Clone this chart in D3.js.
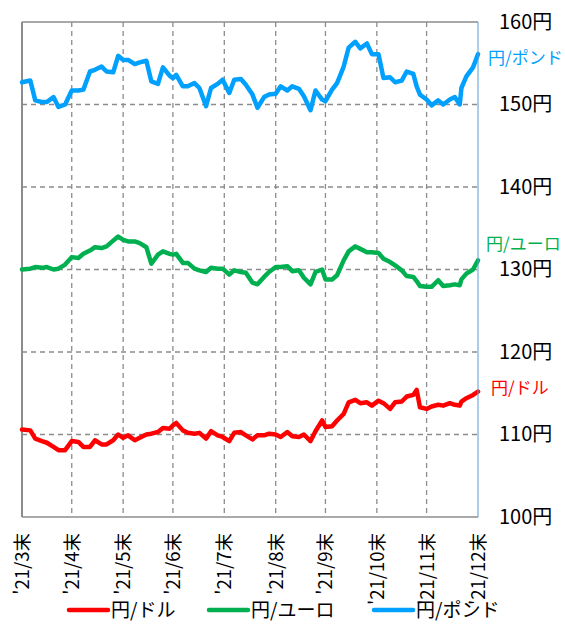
<!DOCTYPE html>
<html lang="ja">
  <head>
    <meta charset="utf-8">
    <title>円相場</title>
    <script src="https://d3js.org/d3.v7.min.js"></script>
    <style type="text/css">
    body { margin: 0; background: #fff; }
    text { font-family: "Noto Sans CJK JP", "Liberation Sans", sans-serif; }
</style>
  </head>
  <body>

<script>
// data
var dates = [
  "2021-03-31","2021-04-05","2021-04-08","2021-04-12","2021-04-15","2021-04-19","2021-04-22","2021-04-26","2021-04-30",
  "2021-05-04","2021-05-07","2021-05-11","2021-05-14","2021-05-18","2021-05-21","2021-05-25","2021-05-28","2021-05-31",
  "2021-06-03","2021-06-07","2021-06-10","2021-06-14","2021-06-17","2021-06-21","2021-06-24","2021-06-28","2021-06-30",
  "2021-07-02","2021-07-06","2021-07-09","2021-07-13","2021-07-16","2021-07-20","2021-07-23","2021-07-27","2021-07-30",
  "2021-08-03","2021-08-06","2021-08-10","2021-08-13","2021-08-17","2021-08-20","2021-08-24","2021-08-27","2021-08-31",
  "2021-09-03","2021-09-07","2021-09-10","2021-09-14","2021-09-17","2021-09-21","2021-09-24","2021-09-28","2021-09-30",
  "2021-10-04","2021-10-07","2021-10-11","2021-10-14","2021-10-18","2021-10-21","2021-10-25","2021-10-28",
  "2021-11-01","2021-11-04","2021-11-08","2021-11-11","2021-11-15","2021-11-18","2021-11-22","2021-11-24","2021-11-26","2021-11-30",
  "2021-12-03","2021-12-07","2021-12-10","2021-12-14","2021-12-17","2021-12-20","2021-12-21","2021-12-24","2021-12-28","2021-12-31"
];

var usd = [
  110.6,110.5,109.5,109.2,109.0,108.5,108.1,108.1,109.2,
  109.1,108.5,108.5,109.3,108.8,108.8,109.3,110.0,109.6,
  109.9,109.3,109.6,110.0,110.1,110.3,110.8,110.7,111.1,
  111.4,110.5,110.2,110.1,110.2,109.5,110.4,109.9,109.7,
  109.2,110.2,110.3,109.9,109.4,109.9,109.9,110.1,110.0,
  109.7,110.3,109.8,109.7,110.0,109.2,110.4,111.7,110.9,
  111.0,111.7,112.5,113.9,114.2,113.8,113.9,113.5,
  114.1,113.8,113.1,113.9,114.0,114.6,114.8,115.4,113.3,113.1,
  113.4,113.6,113.5,113.8,113.6,113.5,114.0,114.4,114.8,115.2
];

var eur = [
  130.0,130.1,130.3,130.2,130.3,130.0,130.1,130.6,131.5,
  131.4,131.9,132.3,132.7,132.6,132.8,133.5,134.0,133.6,
  133.4,133.4,133.2,132.7,130.7,131.8,132.2,131.9,131.8,
  131.9,130.8,130.8,130.1,129.9,129.7,130.2,130.1,130.1,
  129.4,129.9,129.7,129.6,128.4,128.2,129.1,129.7,130.3,
  130.3,130.4,129.8,129.9,129.0,128.2,129.7,130.0,128.8,
  128.8,129.3,131.1,132.2,132.8,132.5,132.1,132.1,
  132.0,131.3,130.9,130.5,129.9,129.2,129.1,128.6,128.0,127.9,
  127.9,128.7,128.0,128.1,128.2,128.1,128.8,129.5,130.0,131.1
];

var gbp = [
  152.7,152.9,150.5,150.3,150.3,150.9,149.7,150.0,151.7,
  151.7,151.8,154.0,154.2,154.6,154.0,153.9,155.9,155.4,
  155.4,154.9,155.1,155.3,152.8,152.5,154.5,153.5,153.2,
  153.6,152.2,152.2,152.6,152.0,149.8,152.0,152.5,153.0,
  151.4,153.0,153.1,152.4,151.2,149.6,150.9,151.2,151.3,
  152.2,151.7,152.2,151.9,151.0,149.3,151.7,150.6,150.4,
  151.8,152.6,154.6,156.9,157.6,156.8,157.4,156.1,
  156.1,153.2,153.3,152.7,152.9,154.0,153.7,152.2,151.2,150.6,
  149.9,150.5,150.0,150.6,150.9,150.0,152.0,153.4,154.5,156.1
];

var tickDates = ["2021-03-31","2021-04-30","2021-05-31","2021-06-30","2021-07-31",
                 "2021-08-31","2021-09-30","2021-10-31","2021-11-30","2021-12-31"];
var tickLabels = ["'21/3末","'21/4末","'21/5末","'21/6末","'21/7末",
                  "'21/8末","'21/9末","'21/10末","'21/11末","'21/12末"];
var yTicks = [100, 110, 120, 130, 140, 150, 160];

var seriesNames = ["円/ドル", "円/ユーロ", "円/ポンド"];
var seriesColors = ["#ff0000", "#00b050", "#00a0ff"];

var parse = d3.timeParse("%Y-%m-%d");

var series = [usd, eur, gbp].map(function (vals, k) {
  return {
    name: seriesNames[k],
    color: seriesColors[k],
    points: vals.map(function (v, i) { return { date: parse(dates[i]), value: v }; })
  };
});

// layout
var width = 565, height = 624;
var plotL = 22, plotR = 478, plotT = 22, plotB = 517;

var svg = d3.select("body").append("svg").attr("width", width).attr("height", height);

var x = d3.scaleTime()
  .domain([parse(tickDates[0]), parse(tickDates[tickDates.length - 1])])
  .range([plotL, plotR]);
var y = d3.scaleLinear().domain([100, 160]).range([plotB, plotT]);

// grid
var grid = svg.append("g");
grid.selectAll("line.h")
  .data(yTicks.slice(1, -1))
  .enter().append("line")
  .attr("x1", plotL).attr("x2", plotR)
  .attr("y1", function (d) { return y(d); })
  .attr("y2", function (d) { return y(d); })
  .attr("stroke", "#8c8c8c").attr("stroke-width", 1.3).attr("stroke-dasharray", "5,4");
grid.selectAll("line.v")
  .data(tickDates.slice(1, -1))
  .enter().append("line")
  .attr("x1", function (d) { return x(parse(d)); })
  .attr("x2", function (d) { return x(parse(d)); })
  .attr("y1", plotT).attr("y2", plotB)
  .attr("stroke", "#8c8c8c").attr("stroke-width", 1.3).attr("stroke-dasharray", "5,4");

// frame
svg.append("line").attr("x1", plotL).attr("x2", plotR).attr("y1", plotT).attr("y2", plotT)
  .attr("stroke", "#8c8c8c").attr("stroke-width", 1.5);
svg.append("line").attr("x1", plotL).attr("x2", plotR).attr("y1", plotB).attr("y2", plotB)
  .attr("stroke", "#8c8c8c").attr("stroke-width", 1.5);
svg.append("line").attr("x1", plotL).attr("x2", plotL).attr("y1", plotT).attr("y2", plotB)
  .attr("stroke", "#8c8c8c").attr("stroke-width", 2);

// lines
var line = d3.line()
  .x(function (d) { return x(d.date); })
  .y(function (d) { return y(d.value); });

svg.selectAll("path.series")
  .data(series)
  .enter().append("path")
  .attr("class", "series")
  .attr("d", function (d) { return line(d.points); })
  .attr("fill", "none")
  .attr("stroke", function (d) { return d.color; })
  .attr("stroke-width", 4.5)
  .attr("stroke-linejoin", "round")
  .attr("stroke-linecap", "round");

// right axis
var yAxis = d3.axisRight(y)
  .tickValues(yTicks)
  .tickFormat(function (d) { return d + "円"; })
  .tickSize(0)
  .tickPadding(21);
var ya = svg.append("g").attr("transform", "translate(" + plotR + ",0)").call(yAxis);
ya.select(".domain").attr("stroke", "#5b9bd5").attr("stroke-width", 1)
  .attr("d", "M0," + plotT + "V" + plotB);
ya.selectAll("text").attr("font-size", 20).attr("fill", "#000")
  .style("font-family", "'Noto Sans CJK JP', sans-serif");

// bottom axis labels, rotated
var xAxis = d3.axisBottom(x)
  .tickValues(tickDates.map(parse))
  .tickFormat(function (d, i) { return tickLabels[i]; })
  .tickSize(0);
var xa = svg.append("g").attr("transform", "translate(0," + plotB + ")").call(xAxis);
xa.select(".domain").remove();
xa.selectAll("text")
  .attr("font-size", 18.5).attr("fill", "#000")
  .attr("text-anchor", "end")
  .attr("x", 0).attr("y", 0).attr("dy", "0.35em")
  .attr("transform", "translate(0,16) rotate(-90)")
  .style("font-family", "'Noto Sans CJK JP', sans-serif");

// series labels at right end
var labelPos = [
  { x: 491, y: 388 },
  { x: 486, y: 244 },
  { x: 488, y: 58 }
];
svg.selectAll("text.slabel")
  .data(series)
  .enter().append("text")
  .attr("x", function (d, i) { return labelPos[i].x; })
  .attr("y", function (d, i) { return labelPos[i].y; })
  .attr("dy", "0.35em")
  .attr("font-size", 17)
  .attr("fill", function (d) { return d.color; })
  .text(function (d) { return d.name; });

// legend
var legendX = [69, 209, 374];
var lg = svg.selectAll("g.legend")
  .data(series)
  .enter().append("g")
  .attr("transform", function (d, i) { return "translate(" + legendX[i] + ",610)"; });
lg.append("line").attr("x1", 0).attr("x2", 39).attr("y1", 0).attr("y2", 0)
  .attr("stroke", function (d) { return d.color; })
  .attr("stroke-width", 4.5).attr("stroke-linecap", "round");
lg.append("text").attr("x", 42).attr("y", 0).attr("dy", "0.35em")
  .attr("font-size", 19).attr("fill", "#000")
  .text(function (d) { return d.name; });
</script>

  </body>
</html>
